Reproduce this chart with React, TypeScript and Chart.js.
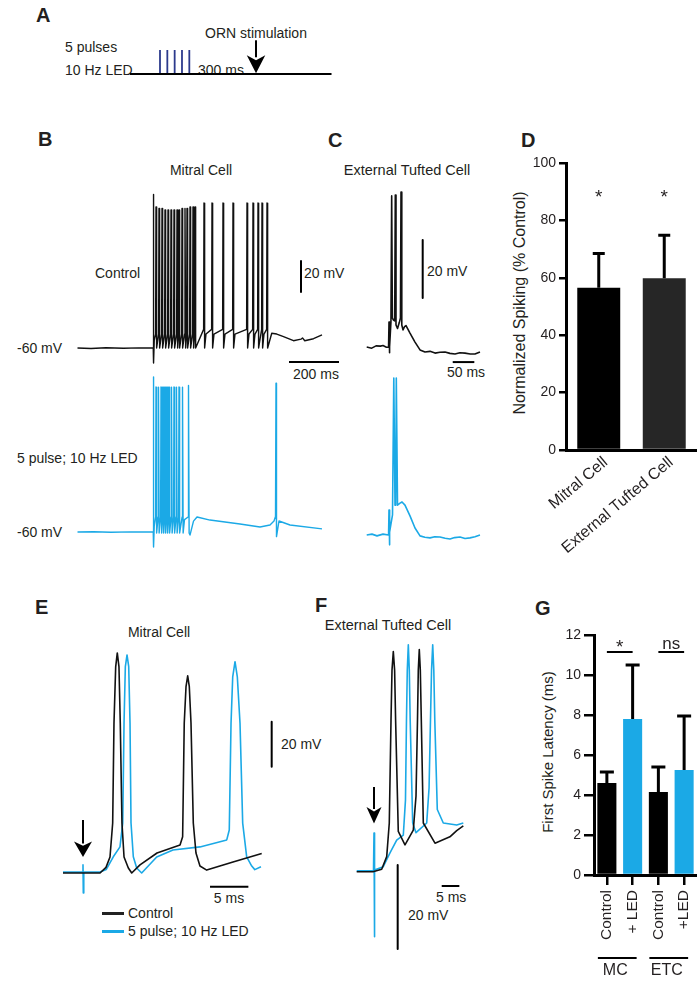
import React, { useEffect, useRef } from 'react';
import { Chart, registerables } from 'chart.js';

Chart.register(...registerables);

const FONT = "'Liberation Sans', Arial, Helvetica, sans-serif";
const INK = '#231f20';
const CYAN = '#1ba9e6';
const NAVY = '#2c3a8c';
const TRACE_BLACK = '#111111';
Chart.defaults.font.family = FONT;

// ---------------- Panel A : protocol (schematic, ms) ----------------
const ledPulseTimes = [0, 100, 200, 300, 400];
const ornStimTime = 1310;
const protocolStart = -410;
const protocolEnd = 2340;

// ---------------- Panel B : mitral cell (ms, mV) ----------------
const mcCtrlRest = [[-304, -60], [-250, -60.3], [-190, -59.8], [-120, -60.2], [-60, -59.9], [-1, -60]];
const mcCtrlArtifact = [[0, 39], [0.4, -69.7], [3, -55]];
const mcCtrlBurstTimes = [10, 22, 34, 46, 58, 70, 82, 94, 102, 114, 126, 134, 146, 158, 166];
const mcCtrlBurstPeaks = [31, 30, 30, 29, 29, 29, 29, 29, 29, 30, 30, 30, 31, 31, 31];
const mcCtrlLateTimes = [202, 234, 278, 318, 374, 398, 418, 434, 454];
const mcCtrlLatePeaks = [33.5, 33.5, 33.5, 33.5, 33.5, 33.5, 33.5, 33.5, 33.5];
const mcCtrlTail = [[473, -50.5], [493, -51], [520, -52.7], [560, -55.3], [590, -54.3], [596, -53.5], [605, -55.3], [640, -54], [674, -51.6]];

const mcLedRest = [[-304, -60], [-240, -59.8], [-170, -60.2], [-90, -59.9], [-1, -60]];
const mcLedArtifact = [[0, 40], [0.4, -69.7], [3, -56]];
const mcLedBurstTimes = [10, 20, 30, 38, 46, 54, 62, 72, 82, 92, 102, 116, 140];
const mcLedBurstPeaks = [33.5, 33.5, 33.5, 33.5, 33.5, 33.5, 33.5, 33.5, 33.5, 33.5, 33.5, 33.5, 34.5];
const mcLedTail = [[146, -62], [160, -53], [174, -50.3], [226, -52.3], [346, -54.8], [426, -56.8], [466, -55.5], [482, -52.9], [488, -50], [490, 36], [492, -63], [502, -52.9], [546, -55.5], [674, -58]];

// ---------------- Panel C : external tufted cell (ms, mV) ----------------
const etcCtrlTrace = [
  [-51.6, -60], [-40, -60.4], [-30, -59.6], [-20, -59.7], [-13.9, -59.5], [-6, -60.1], [-1, -60],
  [0, -51.4], [0.6, -62], [2, -60], [4.5, -51.4], [6.2, -7.9], [7.8, -50], [10.4, -50.7], [13.2, -51],
  [14.6, -7.6], [16.2, -52.4], [19.7, -53.6], [24, -51.5], [26.5, -50], [27.8, -6.6], [29.6, -52.4],
  [32.4, -54.1], [36, -53], [39.4, -52.6], [48.6, -55.2], [60.2, -58.3], [71.8, -61], [83.3, -61.7],
  [95, -61.5], [106.5, -62.1], [118, -61.8], [129.6, -61.7], [141, -62.2], [152.8, -62.4], [164, -62],
  [175.9, -62.1], [188, -62.4], [199, -62.4], [210.6, -61.7],
];
const etcLedTrace = [
  [-51.6, -60], [-39.4, -59.7], [-27.8, -60.3], [-13.9, -59.7], [-1, -60],
  [0, -51.4], [0.5, -63.4], [2.3, -59], [8.1, -53.1], [11.1, -5.9], [13.9, -49.7], [15.5, -49.5],
  [16.9, -5.9], [19.7, -49.7], [25.5, -49], [30.1, -48.6], [37, -49.7], [48.6, -53.4], [60.2, -57.6],
  [71.8, -60.3], [83, -60.8], [94.9, -61], [106, -60.6], [118, -60.7], [130, -61.1], [141.2, -61.4],
  [152, -60.9], [164.4, -60.7], [176, -61.2], [187.5, -61], [199, -60.6], [210.6, -60],
];

// ---------------- Panel D : normalized spiking ----------------
const dCategories = ['Mitral Cell', 'External Tufted Cell'];
const dValues = [56.5, 59.8];
const dErrors = [12, 15];
const dColors = ['#000000', '#262626'];
const dMarks = ['*', '*'];
const dMarkLevel = 89;

// ---------------- Panel E : mitral cell first spikes (ms, mV) ----------------
const eCtrlTrace = [
  [-2.61, -60], [0, -60], [2.22, -60], [3.0, -57.5], [3.52, -52.9], [3.87, -37.8], [4.04, 6.7], [4.26, 31.6],
  [4.47, 37.8], [4.69, 31.6], [4.86, 6.7], [5.08, -37.8], [5.35, -52.9], [5.91, -57.8], [6.35, -60],
  [7.43, -56.4], [9.65, -51.1], [12.65, -47.6], [12.99, -43.9], [13.2, 6.7], [13.43, 22.8], [13.65, 27.6],
  [13.86, 22.8], [14.08, 6.7], [14.38, -37.8], [14.73, -51.1], [15.25, -56.9], [16.13, -58.7],
  [19.56, -55.1], [23.3, -51.3],
];
const eLedTrace = [
  [-2.61, -59.6], [-0.05, -59.6], [0, -56.4], [0.04, -68.9], [0.1, -59.6], [2.22, -59.6], [3.04, -58.4],
  [3.95, -52.8], [4.82, -48.4], [5.18, -37.8], [5.35, 6.7], [5.52, 31.7], [5.74, 36.9], [5.96, 31.7],
  [6.13, 6.7], [6.26, -37.8], [6.56, -52.8], [7.0, -57.8], [7.65, -60], [9.61, -52.9], [11.73, -49.8],
  [15.25, -48.4], [18.74, -45.3], [19.07, -40.9], [19.3, 6.7], [19.52, 27.2], [19.82, 33.9], [20.12, 27.2],
  [20.47, 6.7], [20.82, -37.8], [21.34, -52.8], [22.0, -56.9], [22.4, -58.5], [23.2, -57.2],
];

// ---------------- Panel F : external tufted cell first spikes (ms, mV) ----------------
const fCtrlTrace = [
  [-4.9, -60], [-0.28, -60], [2.18, -59.4], [3.6, -56.4], [4.33, -48.4], [4.82, -23.9], [5.1, -12],
  [5.47, -7.6], [5.84, -12], [6.12, -23.9], [6.88, -50.4], [8.78, -53.6], [11.13, -50.1], [11.9, -42],
  [12.32, -23.9], [12.55, -12], [12.83, -7.1], [13.12, -12], [13.4, -23.9], [13.97, -48.4], [17.28, -53.2],
  [21.5, -51.7], [23.43, -50.2], [25.3, -49.1],
];
const fLedTrace = [
  [-4.9, -59.8], [-0.14, -59.8], [0, -50.8], [0.08, -75.5], [0.23, -59.6], [2.63, -58.8], [4.53, -55.5],
  [6.43, -52.5], [8.3, -51.3], [8.92, -42.9], [9.2, -23.9], [9.43, -12], [9.72, -6], [10.0, -12],
  [10.25, -23.9], [10.96, -48.4], [11.9, -50.7], [14.93, -48.4], [15.6, -40], [16.0, -23.9], [16.3, -12],
  [16.63, -6], [16.94, -12], [17.22, -23.9], [17.93, -45.2], [19.63, -48.4], [23.43, -48.9], [25.3, -48.4],
];

// ---------------- Panel G : first spike latency ----------------
const gCategories = ['Control', '+ LED', 'Control', '+LED'];
const gValues = [4.6, 7.8, 4.15, 5.25];
const gErrors = [0.55, 2.7, 1.25, 2.7];
const gColors = ['#000000', CYAN, '#000000', CYAN];
const gGroups = [{ label: 'MC', from: 0, to: 1 }, { label: 'ETC', from: 2, to: 3 }];
const gComparisons = [{ from: 0, to: 1, text: '*' }, { from: 2, to: 3, text: 'ns' }];
const gComparisonLevel = 11.15;

// ------------------------------------------------------------------
type Pt = { x: number; y: number };
const toPts = (arr: number[][]): Pt[] => arr.map(([x, y]) => ({ x, y }));

function spikeTrain(times: number[], peaks: number[], pre: number, trough: number, recover: number): Pt[] {
  const pts: Pt[] = [];
  times.forEach((t, i) => {
    pts.push({ x: t - 1.5, y: pre });
    pts.push({ x: t, y: peaks[i] });
    pts.push({ x: t + 2.5, y: trough });
    const next = times[i + 1];
    if (next !== undefined && next - t > 16) pts.push({ x: t + 8, y: recover });
  });
  return pts;
}

interface TraceSpec { points: Pt[]; color: string; width: number }
interface ArrowSpec { t: number; v: number; length: number; head: number; headWidth: number }

interface PanelProps {
  left: number; top: number; width: number; height: number;
  originX: number; originY: number; t0: number; v0: number;
  pxPerX: number; pxPerY: number;
  traces: TraceSpec[];
  arrow?: ArrowSpec;
}

function TracePanel(p: PanelProps) {
  const ref = useRef<HTMLCanvasElement>(null);
  useEffect(() => {
    const xMin = p.t0 + (p.left - p.originX) / p.pxPerX;
    const xMax = p.t0 + (p.left + p.width - p.originX) / p.pxPerX;
    const yMax = p.v0 + (p.originY - p.top) / p.pxPerY;
    const yMin = p.v0 - (p.top + p.height - p.originY) / p.pxPerY;
    const arrowPlugin = {
      id: 'arrowMark',
      afterDatasetsDraw(chart: any) {
        const a = p.arrow;
        if (!a) return;
        const ctx = chart.ctx;
        const x = chart.scales.x.getPixelForValue(a.t);
        const y = chart.scales.y.getPixelForValue(a.v);
        ctx.save();
        ctx.strokeStyle = '#000';
        ctx.fillStyle = '#000';
        ctx.lineWidth = 2;
        ctx.beginPath();
        ctx.moveTo(x, y - a.length);
        ctx.lineTo(x, y - a.head + 2);
        ctx.stroke();
        ctx.beginPath();
        ctx.moveTo(x, y);
        ctx.lineTo(x - a.headWidth / 2, y - a.head);
        ctx.lineTo(x, y - a.head * 0.72);
        ctx.lineTo(x + a.headWidth / 2, y - a.head);
        ctx.closePath();
        ctx.fill();
        ctx.restore();
      },
    };
    const chart = new Chart(ref.current as HTMLCanvasElement, {
      type: 'line',
      data: {
        datasets: p.traces.map((tr) => ({
          data: tr.points,
          borderColor: tr.color,
          borderWidth: tr.width,
          pointRadius: 0,
          tension: 0,
          fill: false,
          clip: false as any,
          borderJoinStyle: 'round' as const,
        })),
      },
      options: {
        animation: false,
        responsive: false,
        maintainAspectRatio: false,
        events: [],
        layout: { padding: 0 },
        plugins: { legend: { display: false }, tooltip: { enabled: false } },
        scales: {
          x: { type: 'linear', display: false, min: xMin, max: xMax },
          y: { type: 'linear', display: false, min: yMin, max: yMax },
        },
      },
      plugins: [arrowPlugin],
    } as any);
    return () => chart.destroy();
  }, []);
  return (
    <canvas
      ref={ref}
      width={p.width}
      height={p.height}
      style={{ position: 'absolute', left: p.left, top: p.top, width: p.width, height: p.height }}
    />
  );
}

function bar(points: number[][], width = 2, color = '#000'): TraceSpec {
  return { points: toPts(points), color, width };
}

// ----------------------------- bar charts -----------------------------
function makeBarExtras(cfg: {
  errors: number[]; capWidth: number; lineWidth: number;
  marks?: string[]; markLevel?: number; markFont?: number;
  comparisons?: { from: number; to: number; text: string }[]; comparisonLevel?: number;
  groups?: { label: string; from: number; to: number }[];
}) {
  return {
    id: 'barExtras',
    afterDatasetsDraw(chart: any) {
      const ctx = chart.ctx;
      const meta = chart.getDatasetMeta(0);
      const ys = chart.scales.y;
      const values = chart.data.datasets[0].data as number[];
      ctx.save();
      ctx.strokeStyle = '#000';
      ctx.fillStyle = INK;
      ctx.lineWidth = cfg.lineWidth;
      meta.data.forEach((el: any, i: number) => {
        const x = el.x;
        const yTop = ys.getPixelForValue(values[i]);
        const yErr = ys.getPixelForValue(values[i] + cfg.errors[i]);
        ctx.lineWidth = cfg.lineWidth;
        ctx.beginPath();
        ctx.moveTo(x, yTop);
        ctx.lineTo(x, yErr);
        ctx.moveTo(x - cfg.capWidth / 2, yErr);
        ctx.lineTo(x + cfg.capWidth / 2, yErr);
        ctx.stroke();
        if (cfg.marks) {
          ctx.font = `${cfg.markFont || 18}px ${FONT}`;
          ctx.textAlign = 'center';
          ctx.textBaseline = 'alphabetic';
          ctx.fillText(cfg.marks[i], x, ys.getPixelForValue(cfg.markLevel as number) + 8);
        }
      });
      if (cfg.comparisons) {
        const yl = ys.getPixelForValue(cfg.comparisonLevel as number);
        cfg.comparisons.forEach((c) => {
          const x1 = meta.data[c.from].x;
          const x2 = meta.data[c.to].x;
          ctx.lineWidth = 2;
          ctx.beginPath();
          ctx.moveTo(x1, yl);
          ctx.lineTo(x2, yl);
          ctx.stroke();
          ctx.font = `${c.text === '*' ? 19 : 17}px ${FONT}`;
          ctx.textAlign = 'center';
          ctx.textBaseline = 'alphabetic';
          ctx.fillText(c.text, (x1 + x2) / 2, yl + (c.text === '*' ? 1 : -3));
        });
      }
      if (cfg.groups) {
        const yLine = chart.chartArea.bottom + 83;
        cfg.groups.forEach((g) => {
          const x1 = meta.data[g.from].x - 9;
          const x2 = meta.data[g.to].x + 4;
          ctx.lineWidth = 2;
          ctx.beginPath();
          ctx.moveTo(x1, yLine);
          ctx.lineTo(x2, yLine);
          ctx.stroke();
          ctx.font = `16px ${FONT}`;
          ctx.textAlign = 'center';
          ctx.textBaseline = 'middle';
          ctx.fillText(g.label, (x1 + x2) / 2 - 2, yLine + 13);
        });
      }
      ctx.restore();
    },
  };
}

function BarPanel(p: {
  left: number; top: number; width: number; height: number;
  labels: string[]; values: number[]; colors: string[];
  yMax: number; yStep: number; padTop: number; yAxisWidth: number; xAxisHeight: number;
  barPct: number; rotation: number; labelSize: number; labelPadding: number; labelOffset: number;
  xTicks: boolean; tickLen: number; extras: any;
}) {
  const ref = useRef<HTMLCanvasElement>(null);
  useEffect(() => {
    const chart = new Chart(ref.current as HTMLCanvasElement, {
      type: 'bar',
      data: {
        labels: p.labels,
        datasets: [{
          data: p.values,
          backgroundColor: p.colors,
          borderWidth: 0,
          barPercentage: p.barPct,
          categoryPercentage: 1,
        }],
      },
      options: {
        animation: false,
        responsive: false,
        maintainAspectRatio: false,
        events: [],
        layout: { padding: { top: p.padTop, left: 0, right: 0, bottom: 0 } },
        plugins: { legend: { display: false }, tooltip: { enabled: false } },
        scales: {
          x: {
            grid: {
              display: p.xTicks, drawOnChartArea: false, drawTicks: p.xTicks, tickLength: 10,
              lineWidth: 2.5, color: '#000', offset: false,
            },
            border: { display: true, color: '#000', width: 3 },
            ticks: {
              color: INK, font: { family: FONT, size: p.labelSize },
              minRotation: p.rotation, maxRotation: p.rotation, padding: p.labelPadding,
              labelOffset: p.labelOffset, autoSkip: false,
            },
            afterFit: (s: any) => { s.height = p.xAxisHeight; s.paddingLeft = 0; s.paddingRight = 0; },
          },
          y: {
            min: 0, max: p.yMax,
            ticks: { stepSize: p.yStep, color: INK, font: { family: FONT, size: 14 }, padding: 3 },
            grid: { display: true, drawOnChartArea: false, drawTicks: true, tickLength: p.tickLen, lineWidth: 2.5, color: '#000' },
            border: { display: true, color: '#000', width: 3 },
            afterFit: (s: any) => { s.width = p.yAxisWidth; s.paddingTop = 0; s.paddingBottom = 0; },
          },
        },
      },
      plugins: [p.extras],
    } as any);
    return () => chart.destroy();
  }, []);
  return (
    <canvas
      ref={ref}
      width={p.width}
      height={p.height}
      style={{ position: 'absolute', left: p.left, top: p.top, width: p.width, height: p.height }}
    />
  );
}

// ----------------------------- text -----------------------------
function Label(props: { x: number; y: number; text: string; size?: number; bold?: boolean; align?: 'left' | 'center'; rotate?: boolean }) {
  const { x, y, text, size = 14, bold = false, align = 'left', rotate = false } = props;
  const tx = align === 'center' || rotate ? '-50%' : '0';
  return (
    <div
      style={{
        position: 'absolute', left: x, top: y, fontFamily: FONT, fontSize: size,
        fontWeight: bold ? 700 : 400, color: INK, lineHeight: 1, whiteSpace: 'nowrap',
        transform: `translate(${tx}, -50%)${rotate ? ' rotate(-90deg)' : ''}`,
      }}
    >
      {text}
    </div>
  );
}

export default function App() {
  const aTraces: TraceSpec[] = [
    bar([[protocolStart, 0], [protocolEnd, 0]], 2, '#000'),
    ...ledPulseTimes.map((t) => bar([[t, 0], [t, 1]], 1.8, NAVY)),
  ];

  const mcCtrlPoints = [
    ...toPts(mcCtrlRest), ...toPts(mcCtrlArtifact),
    ...spikeTrain(mcCtrlBurstTimes, mcCtrlBurstPeaks, -51, -60, -52),
    ...spikeTrain(mcCtrlLateTimes, mcCtrlLatePeaks, -48, -60, -51),
    ...toPts(mcCtrlTail),
  ];
  const mcLedPoints = [
    ...toPts(mcLedRest), ...toPts(mcLedArtifact),
    ...spikeTrain(mcLedBurstTimes, mcLedBurstPeaks, -50.3, -60.6, -52),
    ...toPts(mcLedTail),
  ];

  return (
    <div style={{ position: 'absolute', left: 0, top: 0, width: 697, height: 982, background: '#fff', overflow: 'hidden' }}>
      {/* Panel A */}
      <Label x={36} y={15} text="A" size={20} bold />
      <Label x={65} y={47} text="5 pulses" />
      <Label x={65} y={70} text="10 Hz LED" />
      <Label x={198} y={70} text="300 ms" />
      <Label x={205} y={33} text="ORN stimulation" />
      <TracePanel left={120} top={25} width={220} height={60} originX={160} originY={74} t0={0} v0={0}
        pxPerX={0.0733} pxPerY={24} traces={aTraces}
        arrow={{ t: ornStimTime, v: 0.03, length: 33, head: 18, headWidth: 18.5 }} />

      {/* Panel B */}
      <Label x={38} y={139} text="B" size={20} bold />
      <Label x={201} y={170} text="Mitral Cell" align="center" />
      <Label x={95} y={273} text="Control" />
      <Label x={17} y={348} text="-60 mV" />
      <Label x={304} y={273} text="20 mV" />
      <Label x={293} y={374} text="200 ms" />
      <Label x={17} y={458} text="5 pulse; 10 Hz LED" />
      <Label x={17} y={532} text="-60 mV" />
      <TracePanel left={70} top={185} width={275} height={182} originX={153.5} originY={348} t0={0} v0={-60}
        pxPerX={0.25} pxPerY={1.55}
        traces={[
          { points: mcCtrlPoints, color: TRACE_BLACK, width: 1.4 },
          bar([[590, -3.9], [590, -23.9]], 2),
          bar([[542, -69], [742, -69]], 2),
        ]} />
      <TracePanel left={70} top={368} width={262} height={187} originX={153.5} originY={532} t0={0} v0={-60}
        pxPerX={0.25} pxPerY={1.55}
        traces={[{ points: mcLedPoints, color: CYAN, width: 1.4 }]} />

      {/* Panel C */}
      <Label x={328} y={140} text="C" size={20} bold />
      <Label x={407} y={170} text="External Tufted Cell" size={14.5} align="center" />
      <Label x={427} y={271} text="20 mV" />
      <Label x={447} y={372} text="50 ms" />
      <TracePanel left={360} top={185} width={125} height={185} originX={389} originY={347} t0={0} v0={-60}
        pxPerX={0.432} pxPerY={2.9}
        traces={[
          { points: toPts(etcCtrlTrace), color: TRACE_BLACK, width: 1.6 },
          bar([[78, -23.1], [78, -43.1]], 2),
          bar([[147.5, -65.2], [197.5, -65.2]], 2),
        ]} />
      <TracePanel left={360} top={370} width={125} height={185} originX={389} originY={535} t0={0} v0={-60}
        pxPerX={0.432} pxPerY={2.9}
        traces={[{ points: toPts(etcLedTrace), color: CYAN, width: 1.6 }]} />

      {/* Panel D */}
      <Label x={521} y={140} text="D" size={20} bold />
      <Label x={520} y={303} text="Normalized Spiking (% Control)" size={16} rotate />
      <BarPanel left={490} top={150} width={207} height={410}
        labels={dCategories} values={dValues} colors={dColors}
        yMax={100} yStep={20} padTop={13} yAxisWidth={76} xAxisHeight={110}
        barPct={0.656} rotation={40} labelSize={16} labelPadding={3} labelOffset={7} xTicks={false} tickLen={7}
        extras={makeBarExtras({ errors: dErrors, capWidth: 12, lineWidth: 3, marks: dMarks, markLevel: dMarkLevel, markFont: 19 })} />

      {/* Panel E */}
      <Label x={35} y={607} text="E" size={20} bold />
      <Label x={159} y={632} text="Mitral Cell" align="center" />
      <Label x={281} y={744} text="20 mV" />
      <Label x={229} y={898} text="5 ms" align="center" />
      <TracePanel left={55} top={640} width={230} height={255} originX={83} originY={873} t0={0} v0={-60}
        pxPerX={7.67} pxPerY={2.25}
        traces={[
          { points: toPts(eCtrlTrace), color: TRACE_BLACK, width: 1.6 },
          { points: toPts(eLedTrace), color: CYAN, width: 1.6 },
          bar([[24.6, 7.24], [24.6, -12.76]], 2),
          bar([[16.56, -66.1], [21.56, -66.1]], 2),
        ]}
        arrow={{ t: 0, v: -52.9, length: 37, head: 15.5, headWidth: 18 }} />
      <div style={{ position: 'absolute', left: 101.5, top: 911.5, width: 22, height: 3, background: '#222' }} />
      <div style={{ position: 'absolute', left: 101.5, top: 929.5, width: 22, height: 3, background: CYAN }} />
      <Label x={128} y={913} text="Control" />
      <Label x={128} y={931} text="5 pulse; 10 Hz LED" />

      {/* Panel F */}
      <Label x={315} y={605} text="F" size={20} bold />
      <Label x={388} y={625} text="External Tufted Cell" size={14.5} align="center" />
      <Label x={436} y={897} text="5 ms" />
      <Label x={408} y={915} text="20 mV" />
      <TracePanel left={350} top={640} width={125} height={315} originX={374} originY={871.7} t0={0} v0={-60}
        pxPerX={3.53} pxPerY={4.2}
        traces={[
          { points: toPts(fCtrlTrace), color: TRACE_BLACK, width: 1.6 },
          { points: toPts(fLedTrace), color: CYAN, width: 1.6 },
          bar([[6.71, -58.4], [6.71, -78.4]], 2),
          bar([[19.18, -63.4], [24.18, -63.4]], 2),
        ]}
        arrow={{ t: 0, v: -48.5, length: 36.5, head: 16.5, headWidth: 15 }} />

      {/* Panel G */}
      <Label x={535} y={608} text="G" size={20} bold />
      <Label x={547} y={752} text="First Spike Latency (ms)" size={15} rotate />
      <BarPanel left={490} top={620} width={207} height={362}
        labels={gCategories} values={gValues} colors={gColors}
        yMax={12} yStep={2} padTop={15} yAxisWidth={104} xAxisHeight={107}
        barPct={0.74} rotation={90} labelSize={15.5} labelPadding={5} labelOffset={0} xTicks={true} tickLen={10}
        extras={makeBarExtras({
          errors: gErrors, capWidth: 14, lineWidth: 3,
          comparisons: gComparisons, comparisonLevel: gComparisonLevel, groups: gGroups,
        })} />
    </div>
  );
}
